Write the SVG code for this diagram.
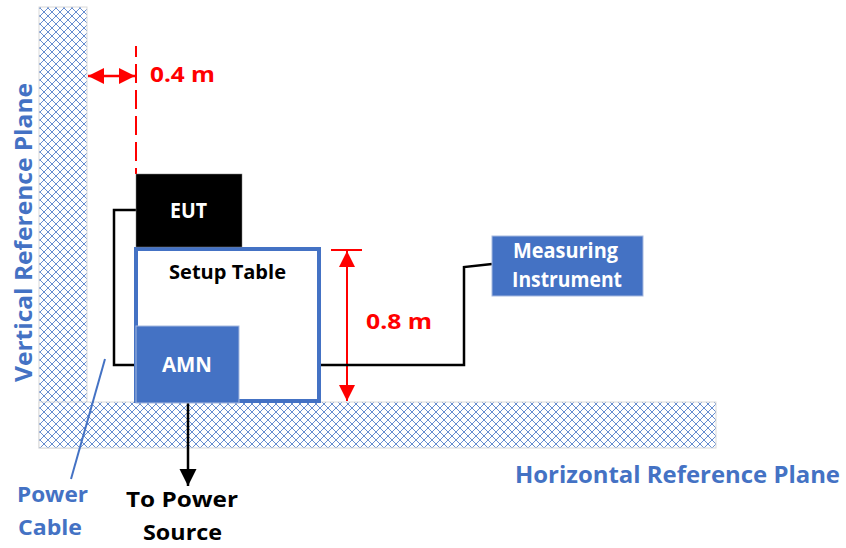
<svg xmlns="http://www.w3.org/2000/svg" width="846" height="548" viewBox="0 0 846 548">
<style>
  .t { font-family: "Open Sans", "Liberation Sans", Arial, sans-serif; font-weight: bold; }
  .blue { fill: #4472C4; }
  .white { fill: #ffffff; }
  .red { fill: #ff0000; }
  .black { fill: #000000; }
  .cable { fill: none; stroke: #000000; stroke-width: 2.5; stroke-linejoin: miter; }
  .plane { fill: url(#hatch); stroke: #d9d9d9; stroke-width: 1; }
</style>
<defs>
  <pattern id="hatch" patternUnits="userSpaceOnUse" width="8" height="8">
    <rect width="8" height="8" fill="#ffffff"/>
    <path d="M0,0 L8,8 M8,0 L0,8" stroke="#4a78c8" stroke-width="0.85"/>
  </pattern>
  <marker id="redArrow" viewBox="0 0 10 10" refX="10" refY="5" markerWidth="17" markerHeight="16" markerUnits="userSpaceOnUse" orient="auto-start-reverse">
    <path d="M0,0 L10,5 L0,10 Z" fill="#ff0000"/>
  </marker>
  <marker id="blackArrow" viewBox="0 0 10 10" refX="10" refY="5" markerWidth="17" markerHeight="19" markerUnits="userSpaceOnUse" orient="auto">
    <path d="M0,0 L10,5 L0,10 Z" fill="#000000"/>
  </marker>
</defs>
<rect width="846" height="548" fill="#ffffff"/>

<g id="vertical-plane">
  <rect class="plane" x="39" y="7" width="48" height="441"/>
</g>
<g id="horizontal-plane">
  <rect class="plane" x="39" y="402" width="677" height="46"/>
</g>

<g id="connectors">
  <!-- 0.4 m dashed reference line -->
  <line x1="136" y1="46" x2="136" y2="174" stroke="#ff0000" stroke-width="2" stroke-dasharray="19,7" stroke-dashoffset="8"/>
  <line x1="88" y1="76" x2="135" y2="76" stroke="#ff0000" stroke-width="2.5" marker-start="url(#redArrow)" marker-end="url(#redArrow)"/>
  <!-- 0.8 m height -->
  <line x1="331" y1="250" x2="362" y2="250" stroke="#ff0000" stroke-width="2"/>
  <line x1="347" y1="251" x2="347" y2="401" stroke="#ff0000" stroke-width="2" marker-start="url(#redArrow)" marker-end="url(#redArrow)"/>
  <!-- cables -->
  <polyline class="cable" points="137,210 114,210 114,365 137,365"/>
  <polyline class="cable" points="239,365 464,365 464,267 492,264"/>
  <line x1="188" y1="403" x2="188" y2="486" stroke="#000000" stroke-width="2.5" marker-end="url(#blackArrow)"/>
  <!-- power cable pointer -->
  <line x1="105" y1="359" x2="71" y2="479" stroke="#4472C4" stroke-width="2"/>
</g>

<g id="setup-table">
  <rect x="136" y="249" width="183" height="152" fill="#ffffff" stroke="#4472C4" stroke-width="4"/>
  <text class="t black" x="169" y="279" font-size="20" textLength="117" lengthAdjust="spacingAndGlyphs">Setup Table</text>
</g>

<g id="eut">
  <rect x="136" y="174" width="106" height="73" fill="#000000" stroke="#7f7f7f" stroke-width="0.5"/>
  <text class="t white" x="170" y="218" font-size="21" textLength="37" lengthAdjust="spacingAndGlyphs">EUT</text>
</g>

<g id="amn">
  <rect x="136" y="326" width="103" height="77" fill="#4472C4" stroke="#a6b9e0" stroke-width="1"/>
  <text class="t white" x="162" y="372" font-size="21" textLength="50" lengthAdjust="spacingAndGlyphs">AMN</text>
</g>

<g id="measuring-instrument">
  <rect x="492" y="236" width="151" height="60" fill="#4472C4" stroke="#a6b9e0" stroke-width="1"/>
  <text class="t white" x="513" y="258" font-size="21" textLength="105" lengthAdjust="spacingAndGlyphs">Measuring</text>
  <text class="t white" x="512" y="287" font-size="21" textLength="110" lengthAdjust="spacingAndGlyphs">Instrument</text>
</g>

<g id="labels">
  <text class="t red" x="150" y="82" font-size="22" textLength="65" lengthAdjust="spacingAndGlyphs">0.4 m</text>
  <text class="t red" x="366" y="329" font-size="22" textLength="66" lengthAdjust="spacingAndGlyphs">0.8 m</text>
  <text class="t blue" x="515" y="483" font-size="23" textLength="325" lengthAdjust="spacingAndGlyphs">Horizontal Reference Plane</text>
  <text class="t blue" transform="translate(32,382) rotate(-90)" x="0" y="0" font-size="23" textLength="299" lengthAdjust="spacingAndGlyphs">Vertical Reference Plane</text>
  <text class="t blue" x="17" y="502" font-size="22" textLength="71" lengthAdjust="spacingAndGlyphs">Power</text>
  <text class="t blue" x="18" y="535" font-size="22" textLength="64" lengthAdjust="spacingAndGlyphs">Cable</text>
  <text class="t black" x="126" y="507" font-size="22" textLength="112" lengthAdjust="spacingAndGlyphs">To Power</text>
  <text class="t black" x="143" y="540" font-size="22" textLength="79" lengthAdjust="spacingAndGlyphs">Source</text>
</g>
</svg>
